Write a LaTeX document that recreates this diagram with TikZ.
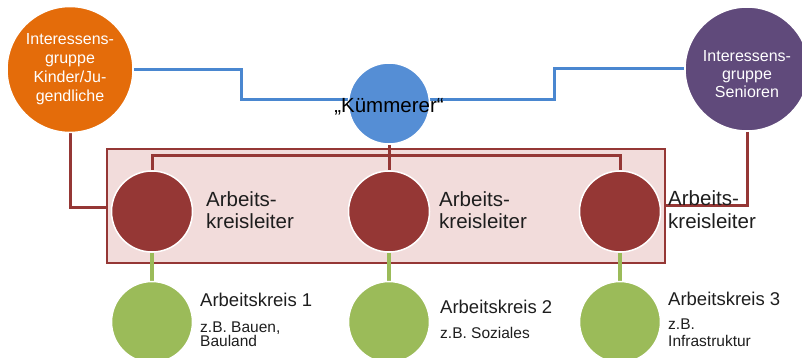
\documentclass[tikz,border=0pt]{standalone}
\usepackage{fontspec}
\setmainfont{Liberation Sans}
\pgfdeclarelayer{bg}
\pgfsetlayers{bg,main}
\definecolor{orangeC}{HTML}{E46C0A}
\definecolor{blueC}{HTML}{558ED5}
\definecolor{blueL}{HTML}{4A87D0}
\definecolor{purpleC}{HTML}{604A7B}
\definecolor{redC}{HTML}{953735}
\definecolor{pinkC}{HTML}{F2DCDB}
\definecolor{greenC}{HTML}{9BBB59}
\definecolor{txtC}{HTML}{1E1E1E}
\begin{document}
\begin{tikzpicture}[x=1pt,y=-1pt,
  blob/.style={circle, inner sep=0pt, minimum size=#1, draw=white, line width=1.5pt},
  bline/.style={line width=3pt, draw=blueL},
  rline/.style={line width=3pt, draw=redC},
  gline/.style={line width=3.8pt, draw=greenC},
  big/.style={font=\fontsize{20.5}{22}\selectfont, inner sep=0pt, text=txtC, anchor=base west},
  mid/.style={font=\fontsize{18.5}{20}\selectfont, inner sep=0pt, text=txtC, anchor=base west},
  small/.style={font=\fontsize{15.5}{17}\selectfont, inner sep=0pt, text=txtC, anchor=base west},
  wtxt/.style={font=\fontsize{16}{18}\selectfont, inner sep=0pt, text=white, anchor=base}
]
\useasboundingbox (0,0) rectangle (802,358);

% circles
\node[blob=126pt, fill=orangeC] (org) at (70,69.5) {};
\node[blob=81pt, fill=blueC] (kum) at (389,103.5) {};
\node[blob=124pt, fill=purpleC] (sen) at (747,69) {};
\node[blob=81pt, fill=redC] (ak1) at (152,211.5) {};
\node[blob=81pt, fill=redC] (ak2) at (389,211.5) {};
\node[blob=81pt, fill=redC] (ak3) at (620,211.5) {};
\node[blob=81pt, fill=greenC] (gk1) at (152,322) {};
\node[blob=81pt, fill=greenC] (gk2) at (389,322) {};
\node[blob=81pt, fill=greenC] (gk3) at (620,322) {};

% texts
\node[wtxt] (o1) at (70,45) {Interessens-};
\node[wtxt] (o2) at (70,63.5) {gruppe};
\node[wtxt] (o3) at (70,83) {Kinder/Ju-};
\node[wtxt] (o4) at (70,101.5) {gendliche};
\node[wtxt] (s1) at (747,62) {Interessens-};
\node[wtxt] (s2) at (747,80) {gruppe};
\node[wtxt] (s3) at (747,97.5) {Senioren};
\node[font=\fontsize{20.5}{22}\selectfont, inner sep=0pt, text=black, anchor=base] (kt) at (389,113) {„Kümmerer“};

\node[big] (a1a) at (206,206) {Arbeits-};
\node[big] (a1b) at (206,228) {kreisleiter};
\node[big] (a2a) at (439,206) {Arbeits-};
\node[big] (a2b) at (439,228) {kreisleiter};
\node[big] (a3a) at (668,205) {Arbeits-};
\node[big] (a3b) at (668,228) {kreisleiter};

\node[mid] (k1a) at (200,306) {Arbeitskreis 1};
\node[small] (k1b) at (200,332) {z.B. Bauen,};
\node[small] (k1c) at (200,346.5) {Bauland};
\node[mid] (k2a) at (440,313) {Arbeitskreis 2};
\node[small] (k2b) at (440,338) {z.B. Soziales};
\node[mid] (k3a) at (668,305) {Arbeitskreis 3};
\node[small] (k3b) at (668,329) {z.B.};
\node[small] (k3c) at (668,346) {Infrastruktur};

\begin{pgfonlayer}{bg}
  \node[draw=redC, fill=pinkC, line width=2.4pt, inner sep=0pt,
        minimum width=558pt, minimum height=114pt] (box) at (386,206) {};
  % blue connectors
  \draw[bline] (org.east) -| (241,100) -- ([yshift=3.5pt]kum.west);
  \draw[bline] ([yshift=3.5pt]kum.east) -| (554,69) -- (sen.west);
  % red connectors
  \draw[rline] (org.south) |- (box.west |- 0,207);
  \draw[rline] (sen.south) |- (box.east |- 0,205);
  \draw[rline] (ak1.north) -- (ak1.north |- 0,156) -- (ak3.north |- 0,156) -- (ak3.north);
  \draw[rline] (kum.south) -- (ak2.north);
  % green connectors
  \draw[gline] (ak1.south) -- (gk1.north);
  \draw[gline] (ak2.south) -- (gk2.north);
  \draw[gline] (ak3.south) -- (gk3.north);
\end{pgfonlayer}
\end{tikzpicture}
\end{document}
